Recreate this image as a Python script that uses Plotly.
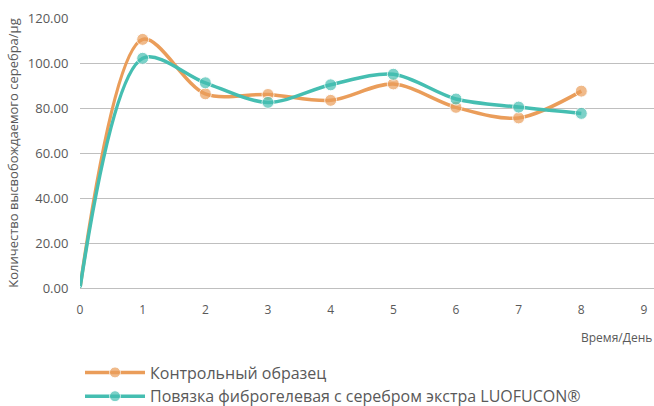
import plotly.graph_objects as go

days = [0, 1, 2, 3, 4, 5, 6, 7, 8]
control = [0, 110.5, 86.3, 86.0, 83.4, 90.7, 80.3, 75.6, 87.5]
luofucon = [0, 102.1, 91.2, 82.5, 90.3, 95.0, 84.0, 80.4, 77.6]
names = ["Контрольный образец", "Повязка фиброгелевая с серебром экстра LUOFUCON®"]
colors = ["#EA9D5A", "#45BEB1"]

fig = go.Figure()
for i, (vals, name, col) in enumerate(zip([control, luofucon], names, colors)):
    fig.add_trace(go.Scatter(
        x=days, y=vals, name=name, mode="lines+markers", legendgroup=f"g{i}",
        line=dict(color=col, width=3.5, shape="spline", smoothing=0.9),
        marker=dict(color=col, size=[3] + [12] * (len(days) - 1)),
    ))

font_fam = "Open Sans, Liberation Sans, sans-serif"
grey = "#595959"
fig.update_layout(
    width=654, height=406,
    margin=dict(l=80, r=0, t=18, b=118, autoexpand=False),
    paper_bgcolor="white", plot_bgcolor="white",
    font=dict(family=font_fam, color=grey, size=12),
    showlegend=True,
    legend=dict(x=0.0, y=-0.25, xanchor="left", yanchor="top",
                font=dict(size=16, color=grey), tracegroupgap=0,
                itemwidth=60),
    xaxis=dict(range=[0, 9.16], tickmode="array", tickvals=list(range(10)),
               showgrid=False, zeroline=False, showline=False, automargin=False,
               ticks="outside", ticklen=11, tickcolor="rgba(0,0,0,0)",
               tickfont=dict(size=12, color=grey)),
    yaxis=dict(range=[0, 120], tickvals=[0, 20, 40, 60, 80, 100, 120],
               tickformat=".2f", showgrid=True, gridcolor="#BFBFBF", gridwidth=1,
               zeroline=True, zerolinecolor="#BFBFBF", zerolinewidth=1, automargin=False,
               ticks="outside", ticklen=8, tickcolor="rgba(0,0,0,0)",
               tickfont=dict(size=13, color=grey),
               title=dict(text="Количество высвобождаемого серебра/µg",
                          font=dict(size=13, color=grey), standoff=6)),
    annotations=[dict(text="Время/День", xref="paper", yref="paper",
                      x=1, y=-0.145, xanchor="right", yanchor="top",
                      showarrow=False, font=dict(size=12, color=grey))],
)

fig.write_html("out.html", config={"displayModeBar": False})
with open("out.html", encoding="utf-8") as f:
    html = f.read()
html = html.replace("<head>", "<head><style>html,body{margin:0;padding:0;overflow:hidden}</style>", 1)
with open("out.html", "w", encoding="utf-8") as f:
    f.write(html)
